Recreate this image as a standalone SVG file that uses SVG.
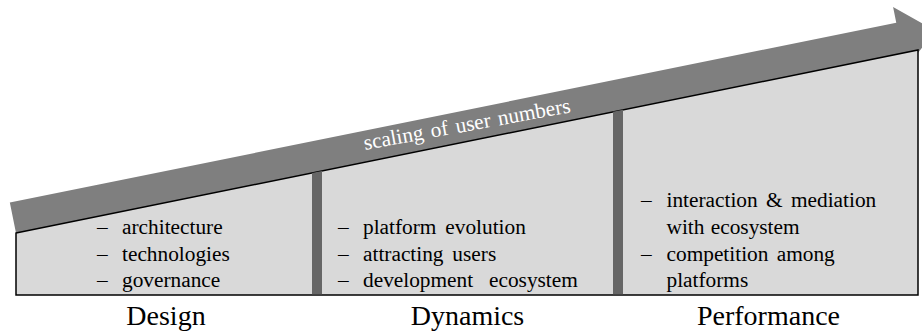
<svg xmlns="http://www.w3.org/2000/svg" width="922" height="334" viewBox="0 0 922 334">
<style>
text{font-family:'Liberation Serif',Tinos,'Times New Roman',Times,'Nimbus Roman','DejaVu Serif',serif;fill:#000}
.b{font-size:21.33px;word-spacing:3.5px}
.lab{font-size:28px;text-anchor:middle}
.arrowtxt{font-size:21.33px;fill:#fff;word-spacing:2.2px}
.bar{fill:#666}
</style>
<rect width="922" height="334" fill="#fff"/>
<g id="connectors">
<g id="arrow">
<polygon transform="translate(16,233) rotate(-11.47)" points="0,0 0,-31 904.5,-31 904.5,-47 941,-15.5 904.5,16 904.5,0" fill="#7f7f7f"/>
</g>
</g>
<g id="box">
<polygon points="16,233 918,50 918,295 16,295" fill="#d9d9d9" stroke="#000" stroke-width="1.5"/>
<polygon points="312,172.9 322,170.9 322,294.2 312,294.2" class="bar"/>
<polygon points="613,111.8 623,109.8 623,294.2 613,294.2" class="bar"/>
</g>
<g id="arrow-label">
<text class="arrowtxt" font-family="Liberation Serif, serif" transform="translate(365,150) rotate(-10.4)">scaling of user numbers</text>
</g>
<g id="design">
<text class="b" x="97" y="234">–</text>
<text class="b" x="122" y="234">architecture</text>
<text class="b" x="97" y="260.5">–</text>
<text class="b" x="122" y="260.5">technologies</text>
<text class="b" x="97" y="287">–</text>
<text class="b" x="122" y="287">governance</text>
<text class="lab" x="166" y="325">Design</text>
</g>
<g id="dynamics">
<text class="b" x="338" y="234">–</text>
<text class="b" x="363" y="234">platform evolution</text>
<text class="b" x="338" y="260.5">–</text>
<text class="b" x="363" y="260.5">attracting users</text>
<text class="b" x="338" y="287">–</text>
<text class="b" x="363" y="287" style="word-spacing:10.5px">development ecosystem</text>
<text class="lab" x="467.5" y="325">Dynamics</text>
</g>
<g id="performance">
<text class="b" x="641" y="207">–</text>
<text class="b" x="666.5" y="207" style="word-spacing:3px">interaction &amp; mediation</text>
<text class="b" x="666.5" y="233.5" style="word-spacing:1px">with ecosystem</text>
<text class="b" x="641" y="260.5">–</text>
<text class="b" x="666.5" y="260.5" style="word-spacing:3px">competition among</text>
<text class="b" x="666.5" y="287">platforms</text>
<text class="lab" x="768.5" y="325">Performance</text>
</g>
</svg>
